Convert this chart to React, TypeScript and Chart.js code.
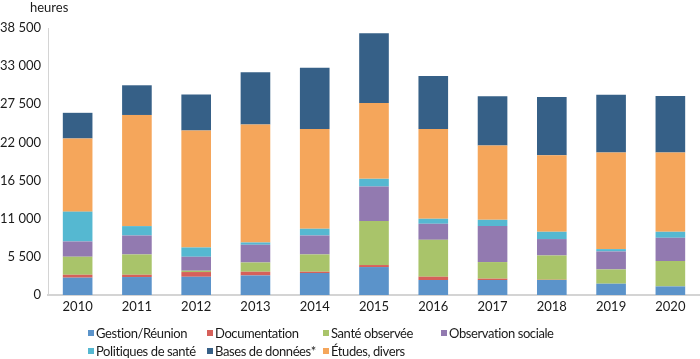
import React, { useEffect, useRef } from "react";
import { Chart, registerables } from "chart.js";

Chart.register(...registerables);

const years = ["2010", "2011", "2012", "2013", "2014", "2015", "2016", "2017", "2018", "2019", "2020"];
const gestion = [2500, 2590, 2630, 2820, 3170, 4030, 2160, 2160, 2160, 1630, 1240];
const documentation = [420, 330, 680, 535, 185, 290, 475, 190, 40, 0, 0];
const santeObservee = [2600, 2930, 190, 1335, 2495, 6340, 5325, 2400, 3500, 2060, 3660];
const observationSociale = [2200, 2730, 2015, 2555, 2730, 4980, 2310, 5185, 2365, 2590, 3350];
const politiquesSante = [4300, 1350, 1340, 330, 970, 1110, 720, 905, 1050, 340, 865];
const etudesDivers = [10550, 16030, 16850, 16995, 14400, 10940, 12960, 10700, 11045, 13915, 11420];
const basesDonnees = [3700, 4280, 5190, 7540, 8830, 10040, 7630, 7120, 8400, 8355, 8165];
const yTicks = [0, 5500, 11000, 16500, 22000, 27500, 33000, 38500];

const FONT = "Lato";
const TEXT = "#1a1a1a";

const series = [
  { label: "Gestion/Réunion", data: gestion, color: "#5B93CA" },
  { label: "Documentation", data: documentation, color: "#D6605A" },
  { label: "Santé observée", data: santeObservee, color: "#A9C46A" },
  { label: "Observation sociale", data: observationSociale, color: "#927AB0" },
  { label: "Politiques de santé", data: politiquesSante, color: "#55B8D1" },
  { label: "Études, divers", data: etudesDivers, color: "#F5A65B" },
  { label: "Bases de données*", data: basesDonnees, color: "#366087" },
];

const legendOrder = [
  "Gestion/Réunion",
  "Documentation",
  "Santé observée",
  "Observation sociale",
  "Politiques de santé",
  "Bases de données*",
  "Études, divers",
];
const legendCols = [88, 207, 323, 441];

function fmt(v: number) {
  return String(v).replace(/\B(?=(\d{3})+(?!\d))/g, " ");
}

export default function App() {
  const ref = useRef<HTMLCanvasElement | null>(null);
  useEffect(() => {
    if (!ref.current) return;
    const chart = new Chart(ref.current, {
      type: "bar",
      data: {
        labels: years,
        datasets: series.map((s) => ({
          label: s.label,
          data: s.data,
          backgroundColor: s.color,
          borderWidth: 0,
          barPercentage: 0.5,
          categoryPercentage: 1,
        })),
      },
      options: {
        animation: false,
        responsive: false,
        layout: { padding: { top: 28, bottom: 40, left: 0, right: 0 } },
        plugins: { legend: { display: false }, tooltip: { enabled: false } },
        scales: {
          x: {
            stacked: true,
            grid: { display: false },
            border: { display: true, color: "#d4d4d4", width: 2 },
            ticks: { color: TEXT, font: { family: FONT, size: 13 }, padding: -4, maxRotation: 0 },
            afterFit: (s: any) => {
              s.height = 24;
            },
          },
          y: {
            stacked: true,
            min: 0,
            max: 38500,
            grid: { display: false, drawTicks: false },
            border: { display: true, color: "#d4d4d4", width: 1 },
            afterBuildTicks: (s: any) => {
              s.ticks = yTicks.map((v) => ({ value: v }));
            },
            ticks: {
              color: TEXT,
              font: { family: FONT, size: 13 },
              padding: 7,
              callback: (v: any) => fmt(Number(v)),
            },
            afterFit: (s: any) => {
              s.width = 48;
            },
          },
        },
      },
    });
    return () => chart.destroy();
  }, []);

  return (
    <div style={{ position: "fixed", left: 0, top: 0, width: 700, height: 359, background: "#fff", fontFamily: FONT }}>
      <canvas ref={ref} width={700} height={359} style={{ position: "absolute", left: 0, top: 0 }} />
      <div style={{ position: "absolute", left: 30, top: -1, fontSize: 13, color: TEXT }}>heures</div>
      {legendOrder.map((name, i) => {
        const s = series.find((d) => d.label === name)!;
        const col = i % 4;
        const row = Math.floor(i / 4);
        return (
          <div
            key={name}
            style={{
              position: "absolute",
              left: legendCols[col],
              top: 325 + row * 18,
              fontSize: 13,
              letterSpacing: "-0.4px",
              color: TEXT,
              display: "flex",
              alignItems: "center",
              whiteSpace: "nowrap",
              lineHeight: "16px",
            }}
          >
            <span style={{ display: "inline-block", width: 6, height: 6, background: s.color, marginRight: 2, marginTop: 0 }} />
            {name}
          </div>
        );
      })}
    </div>
  );
}
